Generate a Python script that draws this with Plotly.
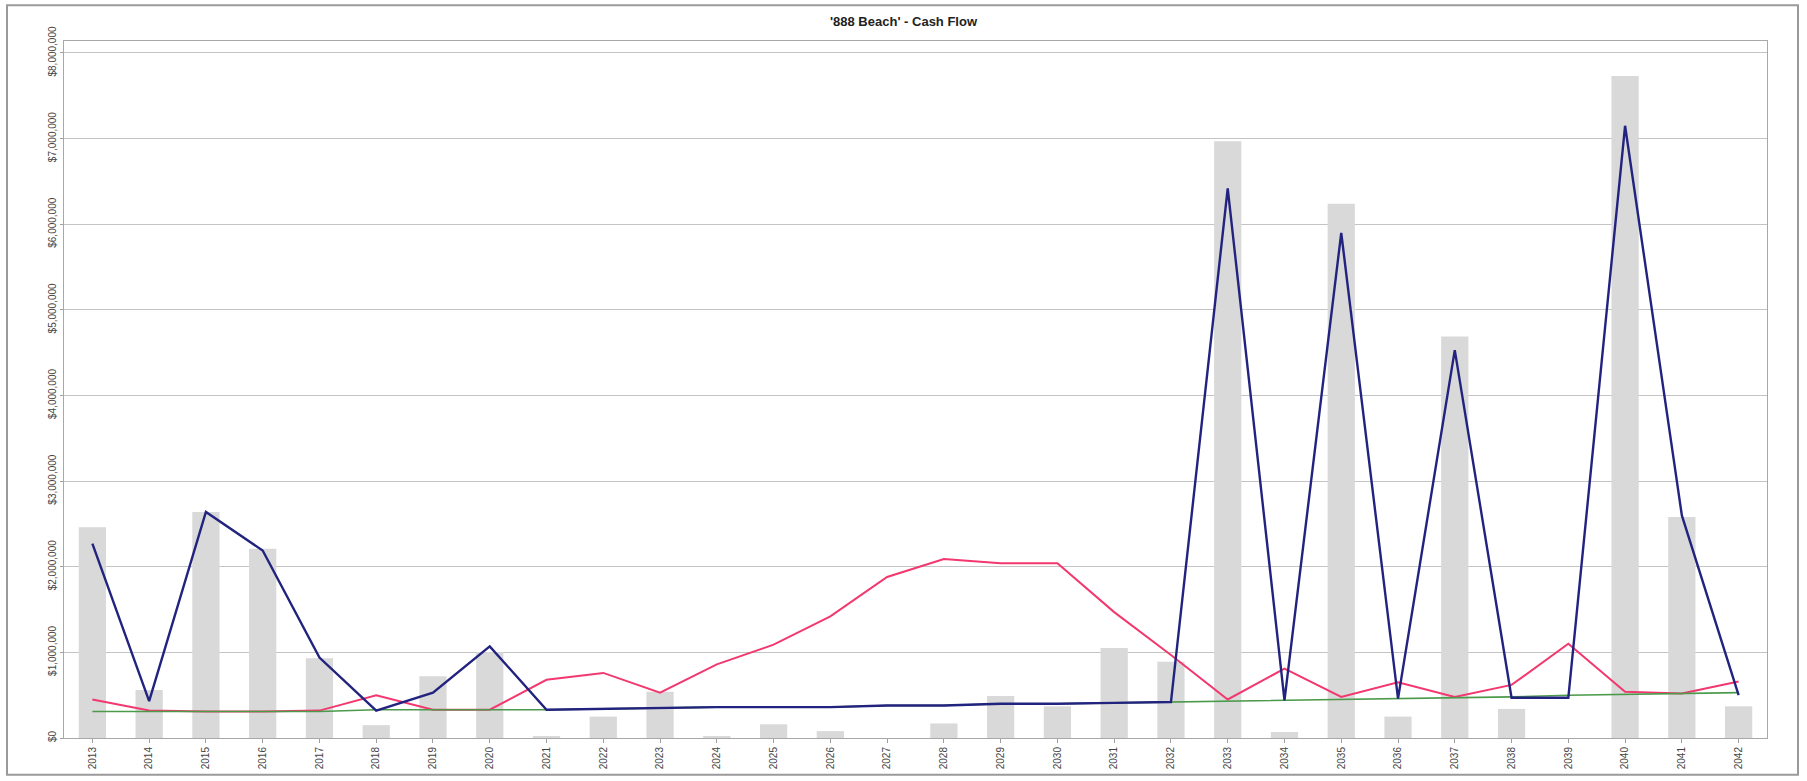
import plotly.graph_objects as go

# Cash flow by year
years = [str(y) for y in range(2013, 2043)]

# Gross cash flow (bars)
gross = [2.46e6, 0.56e6, 2.64e6, 2.21e6, 0.93e6, 0.15e6, 0.72e6, 1.00e6, 0.02e6, 0.25e6,
         0.54e6, 0.02e6, 0.16e6, 0.08e6, 0.00e6, 0.17e6, 0.49e6, 0.37e6, 1.05e6, 0.89e6,
         6.97e6, 0.07e6, 6.24e6, 0.25e6, 4.69e6, 0.34e6, 0.00e6, 7.73e6, 2.58e6, 0.37e6]

# Net cash flow (blue)
net = [2.27e6, 0.43e6, 2.64e6, 2.19e6, 0.94e6, 0.32e6, 0.53e6, 1.07e6, 0.33e6, 0.34e6,
       0.35e6, 0.36e6, 0.36e6, 0.36e6, 0.38e6, 0.38e6, 0.40e6, 0.40e6, 0.41e6, 0.42e6,
       6.42e6, 0.44e6, 5.90e6, 0.46e6, 4.53e6, 0.47e6, 0.47e6, 7.15e6, 2.60e6, 0.50e6]

# Expenses (pink)
expenses = [0.45e6, 0.32e6, 0.31e6, 0.31e6, 0.32e6, 0.50e6, 0.33e6, 0.33e6, 0.68e6, 0.76e6,
            0.53e6, 0.86e6, 1.09e6, 1.42e6, 1.88e6, 2.09e6, 2.04e6, 2.04e6, 1.47e6, 0.97e6,
            0.45e6, 0.81e6, 0.48e6, 0.65e6, 0.48e6, 0.62e6, 1.10e6, 0.54e6, 0.52e6, 0.66e6]

# Base income (green)
base = [0.31e6, 0.31e6, 0.31e6, 0.31e6, 0.31e6, 0.33e6, 0.33e6, 0.33e6, 0.33e6, 0.34e6,
        0.35e6, 0.36e6, 0.36e6, 0.36e6, 0.38e6, 0.38e6, 0.40e6, 0.40e6, 0.41e6, 0.42e6,
        0.43e6, 0.44e6, 0.45e6, 0.46e6, 0.47e6, 0.48e6, 0.50e6, 0.51e6, 0.52e6, 0.53e6]

y_ticks = [0, 1e6, 2e6, 3e6, 4e6, 5e6, 6e6, 7e6, 8e6]
y_labels = ["$0", "$1,000,000", "$2,000,000", "$3,000,000", "$4,000,000",
            "$5,000,000", "$6,000,000", "$7,000,000", "$8,000,000"]

W, H = 1807, 781
ML, MR, MT, MB = 64, 40, 41, 39

fig = go.Figure()
fig.add_trace(go.Bar(x=years, y=gross, marker=dict(color="#d9d9d9", line=dict(width=0)),
                     name="Gross"))
fig.add_trace(go.Scatter(x=years, y=expenses, mode="lines",
                         line=dict(color="#f2386e", width=2), name="Expenses"))
fig.add_trace(go.Scatter(x=years, y=base, mode="lines",
                         line=dict(color="#4b9a4b", width=1.6), name="Base"))
fig.add_trace(go.Scatter(x=years, y=net, mode="lines",
                         line=dict(color="#22237f", width=2.4), name="Net"))

# outer chart frame, in pixel positions converted to paper coords
pw, ph = W - ML - MR, H - MT - MB
def px(xp):
    return (xp - ML) / pw
def py(yp):
    return (H - MB - yp) / ph

fig.add_shape(type="rect", xref="paper", yref="paper",
              x0=px(7), x1=px(1798), y0=py(779), y1=py(5),
              line=dict(color="#9a9a9a", width=2), fillcolor="rgba(0,0,0,0)", layer="below")

fig.update_layout(
    width=W, height=H,
    margin=dict(l=ML, r=MR, t=MT, b=MB),
    paper_bgcolor="white", plot_bgcolor="white",
    showlegend=False,
    bargap=0.52,
    font=dict(family="Liberation Sans, Arial, sans-serif", color="#333333", size=10),
    title=dict(text="<b>'888 Beach' - Cash Flow</b>", x=0.5, xanchor="center",
               y=1 - 21 / H, yanchor="middle",
               font=dict(size=13, color="#222222", family="Liberation Sans, Arial, sans-serif")),
)
fig.update_xaxes(type="category", range=[-0.5, len(years) - 0.5],
                 tickangle=-90, ticks="outside", ticklen=4, tickcolor="#a0a0a0",
                 showline=True, linecolor="#a8a8a8", linewidth=1, mirror=True,
                 showgrid=False, tickfont=dict(size=10, color="#444444"))
fig.update_yaxes(range=[0, 8.14e6], tickvals=y_ticks, ticktext=y_labels,
                 tickangle=-90, ticks="outside", ticklen=3, tickcolor="#a0a0a0",
                 showline=True, linecolor="#a8a8a8", linewidth=1, mirror=True,
                 showgrid=True, gridcolor="#c4c4c4", gridwidth=1, zeroline=False,
                 tickfont=dict(size=10, color="#444444"))

fig.write_html("out.html")
